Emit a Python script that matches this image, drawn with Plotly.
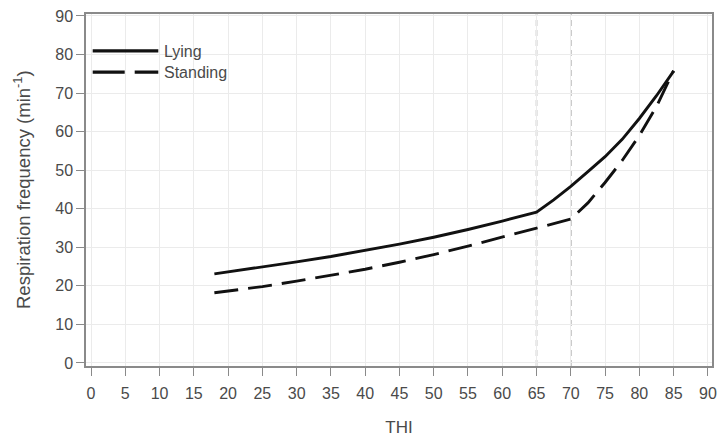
import plotly.graph_objects as go

# Data
lying_x = [18, 25, 30, 35, 40, 45, 50, 55, 60, 65, 67.5, 70, 72.5, 75, 77.5, 80, 82.5, 85]
lying_y = [23.1, 24.8, 26.2, 27.6, 29.1, 30.8, 32.6, 34.6, 36.8, 39.1, 42.3, 45.8, 49.6, 53.5, 58.0, 63.4, 69.3, 75.7]

standing_x = [18, 25, 30, 35, 40, 45, 50, 55, 60, 65, 70, 72.5, 75, 77.5, 80, 82.5, 85]
standing_y = [18.2, 19.8, 21.2, 22.7, 24.3, 26.1, 28.1, 30.3, 32.6, 34.9, 37.3, 41.5, 46.8, 52.5, 59.0, 66.5, 75.8]

threshold_x = [65, 70]
x_ticks = list(range(0, 95, 5))
y_ticks = list(range(0, 100, 10))

font_family = "Liberation Sans, Arial, sans-serif"
text_col = "#4a4a4a"

fig = go.Figure()
fig.add_trace(go.Scatter(x=lying_x, y=lying_y, mode="lines", name="Lying",
                         line=dict(color="#111111", width=2.9), showlegend=False))
fig.add_trace(go.Scatter(x=standing_x, y=standing_y, mode="lines", name="Standing",
                         line=dict(color="#111111", width=2.9, dash="24px,10px"), showlegend=False))

for tx in threshold_x:
    fig.add_shape(type="line", x0=tx, x1=tx, y0=0, y1=1, xref="x", yref="paper",
                  line=dict(color="#a0a0a0", width=1.5, dash="6px,4px"), layer="below")

# manual legend (paper coords)
fig.add_shape(type="line", xref="paper", yref="paper", x0=0.0107, x1=0.1155, y0=0.895, y1=0.895,
              line=dict(color="#111111", width=3.2))
fig.add_shape(type="line", xref="paper", yref="paper", x0=0.0107, x1=0.1155, y0=0.835, y1=0.835,
              line=dict(color="#111111", width=3.2, dash="32px,10px"))
fig.add_annotation(xref="paper", yref="paper", x=0.122, y=0.893, text="Lying", showarrow=False,
                   xanchor="left", yanchor="middle", font=dict(size=16, color=text_col, family=font_family))
fig.add_annotation(xref="paper", yref="paper", x=0.122, y=0.833, text="Standing", showarrow=False,
                   xanchor="left", yanchor="middle", font=dict(size=16, color=text_col, family=font_family))

# y-axis title
fig.add_annotation(xref="paper", yref="paper", x=-0.1022, y=0.5, textangle=-90,
                   text="Respiration frequency (min<sup>-1</sup>)", showarrow=False,
                   xanchor="center", yanchor="middle",
                   font=dict(size=18.5, color=text_col, family=font_family))

axis_common = dict(showline=True, linecolor="#8a8a8a", linewidth=1.5, mirror=True,
                   ticks="outside", ticklen=8, tickcolor="#8a8a8a", tickwidth=1.2,
                   showgrid=True, gridcolor="#ebebeb", gridwidth=1, zeroline=False,
                   automargin=False,
                   tickfont=dict(size=16, color=text_col, family=font_family))

fig.update_layout(
    width=717, height=437,
    margin=dict(l=86, r=5, t=14, b=71),
    plot_bgcolor="white", paper_bgcolor="white",
    font=dict(family=font_family, color=text_col),
    xaxis=dict(range=[-0.73, 90.6], tickvals=x_ticks, ticklabelstandoff=4,
               title=dict(text="THI", font=dict(size=17, color=text_col, family=font_family), standoff=20),
               **axis_common),
    yaxis=dict(range=[-0.8, 90.5], tickvals=y_ticks,
               **axis_common),
)

fig.write_html("out.html")
